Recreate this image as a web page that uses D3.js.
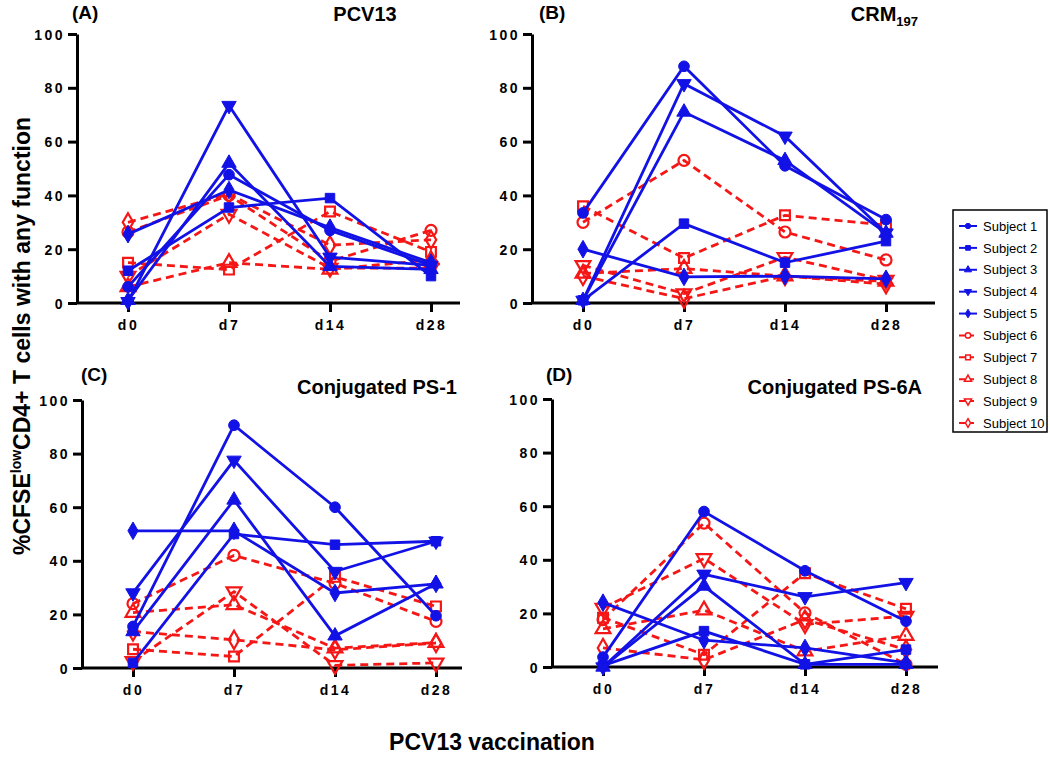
<!DOCTYPE html>
<html>
<head>
<meta charset="utf-8">
<script src="https://cdn.jsdelivr.net/npm/d3@7"></script>
<style>
  body { margin: 0; background: #fff; }
  svg { font-family: Arial, "Liberation Sans", sans-serif; }
  .axis text { font-weight: bold; font-size: 14px; letter-spacing: 2.5px; fill: #000; }
  .axis line, .axis path { stroke: #000; stroke-width: 3; }
  .ptitle { font-weight: bold; font-size: 20px; }
  .plabel { font-weight: bold; font-size: 19px; }
  .big { font-weight: bold; font-size: 23px; }
  .legend text { font-size: 13px; }
</style>
</head>
<body>
<svg width="1050" height="757"></svg>
<script>
const days = ['d0', 'd7', 'd14', 'd28'];
const subjects = ['Subject 1', 'Subject 2', 'Subject 3', 'Subject 4', 'Subject 5',
  'Subject 6', 'Subject 7', 'Subject 8', 'Subject 9', 'Subject 10'];
const yTicks = [0, 20, 40, 60, 80, 100];

// one row per subject: d0, d7, d14, d28
const pcv13 = [
  [6, 47.7, 27, 14],
  [12, 35.5, 39, 10],
  [1, 52, 13.6, 12.5],
  [0.5, 73.4, 17, 14],
  [25.6, 42, 28, 15],
  [26.4, 40, 15.5, 27],
  [15, 12.4, 34, 19],
  [6, 15, 12.5, 16],
  [10, 33, 13, 13],
  [30, 40.5, 21.5, 23.5]
];
const crm197 = [
  [33.5, 88, 51, 31],
  [1, 29.5, 15, 23],
  [1, 71, 53, 26],
  [1, 81.5, 62, 26],
  [20, 9.7, 10, 9],
  [30, 53, 26.4, 16],
  [36, 16.7, 32.6, 29],
  [11, 12.8, 10, 8],
  [14, 3.5, 17, 8.5],
  [10, 1.6, 10, 7]
];
const ps1 = [
  [15.5, 90.6, 60, 19.5],
  [1.9, 50, 46, 47.3],
  [13.6, 62.7, 12, 31.4],
  [28, 77.5, 36, 47.3],
  [51.2, 51.2, 28, 31.4],
  [24, 42, 31.6, 17.4],
  [7, 4.3, 34, 23],
  [20.7, 23.6, 7.4, 9.5],
  [2.5, 28.5, 1, 1.9],
  [13.6, 10.5, 6.8, 9.3]
];
const ps6a = [
  [3.7, 58, 35.9, 17.1],
  [0.5, 13.4, 1, 6.5],
  [0, 30.2, 1, 1],
  [0, 34.6, 26.2, 31.5],
  [24, 10, 7.1, 1.5],
  [17.7, 53.7, 20.2, 1],
  [18.4, 4.6, 35, 21.7],
  [14.2, 21.2, 5.9, 11.7],
  [22, 40.5, 15.9, 19],
  [7.1, 2.7, 17.7, 6.5]
];

const blue = '#1212e6';
const red = '#f51616';
const shapes = [
  { type: d3.symbolCircle, rot: 0 },
  { type: d3.symbolSquare, rot: 0 },
  { type: d3.symbolTriangle, rot: 0 },
  { type: d3.symbolTriangle, rot: 180 },
  { type: d3.symbolDiamond, rot: 0 }
];

const svg = d3.select('svg');

const panels = [
  { data: pcv13, label: '(A)', title: 'PCV13', left: 77, right: 460, top: 34, bottom: 303, labX: 72, labY: 19, titleX: 365, titleY: 21, anchor: 'middle' },
  { data: crm197, label: '(B)', title: 'CRM', sub: '197', left: 532, right: 935, top: 34, bottom: 303, labX: 539, labY: 19, titleX: 918, titleY: 21, anchor: 'end' },
  { data: ps1, label: '(C)', title: 'Conjugated PS-1', left: 82, right: 462, top: 400, bottom: 668, labX: 81, labY: 381, titleX: 457, titleY: 394, anchor: 'end' },
  { data: ps6a, label: '(D)', title: 'Conjugated PS-6A', left: 552, right: 938, top: 399, bottom: 667, labX: 546, labY: 381, titleX: 922, titleY: 394, anchor: 'end' }
];

panels.forEach(p => {
  const g = svg.append('g');
  const x = d3.scalePoint().domain(days).range([p.left + 51, p.left + 354]);
  const y = d3.scaleLinear().domain([0, 100]).range([p.bottom, p.top]);

  g.append('line')
    .attr('x1', p.left).attr('x2', p.right)
    .attr('y1', p.bottom).attr('y2', p.bottom)
    .attr('stroke', '#000').attr('stroke-width', 3);

  g.append('g')
    .attr('class', 'axis')
    .attr('transform', `translate(0, ${p.bottom})`)
    .call(d3.axisBottom(x).tickSize(9).tickSizeOuter(0).tickPadding(8))
    .call(a => a.select('.domain').remove());

  g.append('g')
    .attr('class', 'axis')
    .attr('transform', `translate(${p.left}, 0)`)
    .call(d3.axisLeft(y).tickValues(yTicks).tickSize(9).tickSizeOuter(0).tickPadding(3))
    .call(a => a.selectAll('.tick text').attr('dy', '0.36em'));

  g.append('text').attr('class', 'plabel')
    .attr('x', p.labX).attr('y', p.labY).text(p.label);

  const t = g.append('text').attr('class', 'ptitle')
    .attr('x', p.titleX).attr('y', p.titleY)
    .attr('text-anchor', p.anchor).text(p.title);
  if (p.sub) {
    t.append('tspan').attr('font-size', '13px').attr('dy', 5).text(p.sub);
  }

  const line = d3.line().x((d, i) => x(days[i])).y(d => y(d));

  // red (subjects 6-10) first, blue on top
  const order = [5, 6, 7, 8, 9, 0, 1, 2, 3, 4];
  order.forEach(s => {
    const isRed = s >= 5;
    const col = isRed ? red : blue;
    const shape = shapes[s % 5];
    g.append('path')
      .datum(p.data[s])
      .attr('d', line)
      .attr('fill', 'none')
      .attr('stroke', col)
      .attr('stroke-width', 2.8)
      .attr('stroke-dasharray', isRed ? '8,5' : null);

    g.selectAll(null)
      .data(p.data[s])
      .enter()
      .append('path')
      .attr('transform', (d, i) => `translate(${x(days[i])}, ${y(d)}) rotate(${shape.rot})`)
      .attr('d', d3.symbol().type(shape.type).size(isRed ? 95 : 90))
      .attr('fill', isRed ? 'none' : col)
      .attr('stroke', col)
      .attr('stroke-width', isRed ? 2.2 : 1);
  });
});

// legend
const lg = svg.append('g').attr('class', 'legend');
lg.append('rect')
  .attr('x', 953).attr('y', 210).attr('width', 94).attr('height', 222)
  .attr('fill', '#fff').attr('stroke', '#000').attr('stroke-width', 1.5);

const ly = d3.scalePoint().domain(subjects).range([226, 423]);
subjects.forEach((name, s) => {
  const isRed = s >= 5;
  const col = isRed ? red : blue;
  const shape = shapes[s % 5];
  const yy = ly(name);
  lg.append('line')
    .attr('x1', 959).attr('x2', 977).attr('y1', yy).attr('y2', yy)
    .attr('stroke', col).attr('stroke-width', 2)
    .attr('stroke-dasharray', isRed ? '6,3' : null);
  lg.append('path')
    .attr('transform', `translate(968, ${yy}) rotate(${shape.rot})`)
    .attr('d', d3.symbol().type(shape.type).size(22))
    .attr('fill', isRed ? '#fff' : col)
    .attr('stroke', col)
    .attr('stroke-width', isRed ? 1.5 : 1);
  lg.append('text')
    .attr('x', 983).attr('y', yy).attr('dy', '0.36em')
    .text(name);
});

// axis titles
const yl = svg.append('text').attr('class', 'big')
  .attr('transform', 'translate(30, 336) rotate(-90)')
  .attr('text-anchor', 'middle');
yl.append('tspan').text('%CFSE');
yl.append('tspan').attr('font-size', '14px').attr('dy', -9).text('low');
yl.append('tspan').attr('dy', 9).text('CD4+ T cells with any function');

svg.append('text').attr('class', 'big')
  .attr('x', 492).attr('y', 750)
  .attr('text-anchor', 'middle')
  .text('PCV13 vaccination');
</script>
</body>
</html>
